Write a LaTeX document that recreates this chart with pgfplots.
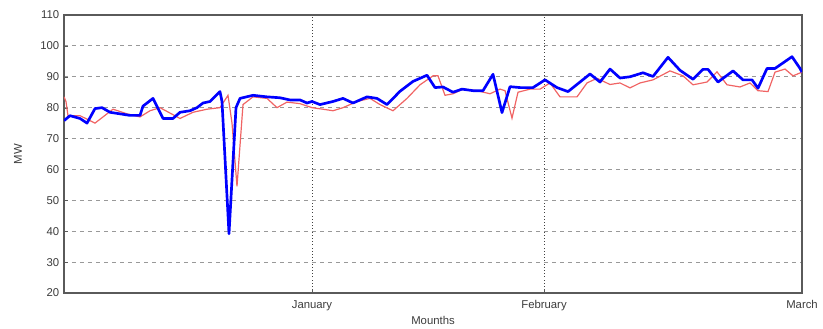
\documentclass[border=0pt]{standalone}
\usepackage{pgfplots}
\pgfplotsset{compat=1.18}
\usepackage{fontspec}
\setmainfont{Liberation Sans}
\definecolor{frame}{RGB}{90,90,90}
\definecolor{txt}{RGB}{60,60,60}
\definecolor{redl}{RGB}{240,100,100}
\begin{document}
\begin{tikzpicture}
\begin{axis}[
  scale only axis,
  width=553.5pt, height=208.5pt,
  xmin=64, xmax=802, ymin=20, ymax=110,
  xtick={312,544,802},
  xticklabels={January,February,March},
  ytick={20,30,...,110},
  tick align=inside,
  xtick pos=left, ytick pos=left,
  major tick length=3pt,
  axis line style={frame, line width=0.8pt},
  tick style={frame},
  every tick label/.append style={font=\fontsize{8.5}{10}\selectfont, text=txt},
  xticklabel style={yshift=-2pt},
  /pgf/number format/assume math mode=true,
  xmajorgrids, ymajorgrids,
  x grid style={black!75, dotted, line width=0.6pt},
  y grid style={gray!80, dashed, line width=0.6pt},
  xlabel={Mounths}, ylabel={MW},
  label style={font=\fontsize{8.5}{10}\selectfont, text=txt},
  xlabel style={yshift=3pt},
  ylabel style={yshift=7pt},
  clip=true,
]
\addplot[redl, line width=0.9pt] coordinates {
(64,83.5) (66,82) (68,77.4) (80,77.4) (95,75.0) (113,79.5) (127,78.0) (140,77.0) (150,79.0) (160,80.0) (180,76.5) (193,78.5) (207,79.5) (220,80.0) (228,84.0) (232,75) (237,54.5) (243,81) (253,83.5) (267,83.0) (277,80.0) (287,81.8) (300,81.3) (312,80.0) (323,79.5) (333,79.0) (343,80.0) (357,82.0) (370,83.0) (380,81.0) (393,79.0) (407,83.0) (420,87.4) (433,90.3) (438,90.3) (445,84.0) (453,84.5) (463,86.0) (477,85.5) (490,84.5) (500,86.0) (505,85.5) (512,76.6) (518,85.0) (530,86.0) (540,86.0) (550,88.0) (560,83.5) (577,83.5) (587,88.0) (597,89.5) (610,87.5) (620,88.0) (630,86.4) (640,88.0) (653,89.0) (670,91.9) (683,90.3) (693,87.4) (707,88.3) (717,91.6) (727,87.4) (740,86.7) (750,88.0) (758,85.5) (768,85.2) (775,91.5) (785,92.5) (793,90.3) (802,91.5)
};
\addplot[blue, line width=2pt, line join=round] coordinates {
(64,75.8) (70,77.4) (80,76.5) (87,75.0) (95,79.7) (102,80.0) (110,78.5) (120,78.0) (130,77.5) (140,77.5) (143,80.5) (153,83.0) (163,76.5) (173,76.5) (180,78.5) (190,79.0) (197,80.0) (203,81.5) (210,82.0) (220,85.2) (222,82) (229,39.2) (236,80.0) (240,83.0) (253,84.0) (267,83.5) (280,83.2) (290,82.5) (300,82.5) (307,81.5) (312,82.0) (320,81.0) (333,82.0) (343,83.0) (353,81.5) (367,83.5) (377,83.0) (387,81.0) (400,85.3) (413,88.5) (427,90.5) (435,86.5) (443,86.7) (453,85.0) (462,86.0) (473,85.5) (483,85.5) (493,90.8) (502,78.4) (510,86.8) (520,86.5) (533,86.5) (545,89.0) (557,86.5) (568,85.2) (580,88.3) (590,90.9) (600,88.3) (610,92.5) (620,89.6) (630,90.0) (643,91.3) (653,90.1) (668,96.3) (680,92.1) (693,89.2) (703,92.4) (708,92.4) (718,88.3) (733,91.9) (743,89.0) (752,89.0) (758,86.3) (767,92.7) (775,92.7) (792,96.5) (800,92.7) (802,91.5)
};
\end{axis}
\path ([shift={(-48pt,-25.5pt)}]current axis.south west) rectangle ([shift={(15.75pt,11.25pt)}]current axis.north east);
\end{tikzpicture}
\end{document}
